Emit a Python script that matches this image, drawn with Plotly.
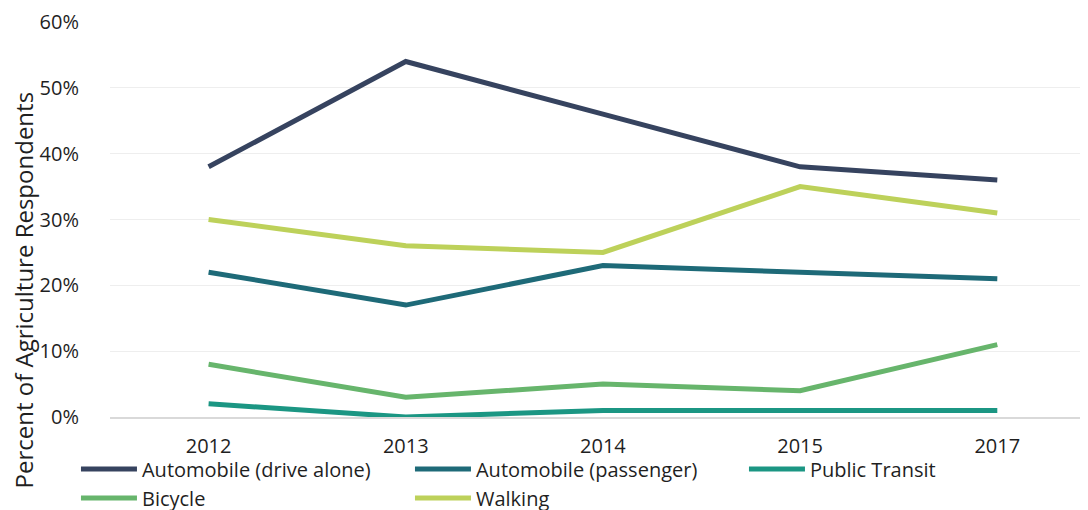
import plotly.graph_objects as go

years = ["2012", "2013", "2014", "2015", "2017"]
drive_alone = [0.38, 0.54, 0.46, 0.38, 0.36]
passenger = [0.22, 0.17, 0.23, 0.22, 0.21]
public_transit = [0.02, 0.00, 0.01, 0.01, 0.01]
bicycle = [0.08, 0.03, 0.05, 0.04, 0.11]
walking = [0.30, 0.26, 0.25, 0.35, 0.31]

series = [
    ("Automobile (drive alone)", drive_alone, "#36435F"),
    ("Automobile (passenger)", passenger, "#1E6A78"),
    ("Public Transit", public_transit, "#1B9683"),
    ("Bicycle", bicycle, "#67B56C"),
    ("Walking", walking, "#BDD15A"),
]

fig = go.Figure()
for name, vals, col in series:
    fig.add_trace(go.Scatter(x=years, y=vals, name=name, mode="lines",
                             line=dict(color=col, width=5)))

font = "Open Sans"
txt = "#1F1F1F"
fig.update_layout(
    width=1088, height=510,
    margin=dict(l=102, r=8, t=14, b=101, autoexpand=False),
    paper_bgcolor="white", plot_bgcolor="white",
    font=dict(family=font, size=20, color=txt),
    showlegend=True,
    legend=dict(orientation="h", x=-0.0348, xanchor="left", y=-0.082, yanchor="top",
                bgcolor="rgba(0,0,0,0)",
                font=dict(size=20, color=txt),
                entrywidth=263, entrywidthmode="pixels",
                tracegroupgap=0, itemwidth=56),
    xaxis=dict(type="category", range=[-0.5, 4.46], showgrid=False,
               showline=True, linecolor="#D9D9D9", linewidth=2,
               ticks="outside", ticklen=10, tickcolor="rgba(0,0,0,0)",
               tickfont=dict(size=20)),
    yaxis=dict(range=[0, 0.6], tickformat=".0%", dtick=0.1,
               showgrid=True, gridcolor="#EEEEEE", gridwidth=1,
               zeroline=False, ticks="outside", ticklen=26, tickcolor="rgba(0,0,0,0)",
               tickfont=dict(size=20)),
    annotations=[dict(text="Percent of Agriculture Respondents", textangle=-90,
                      xref="paper", yref="paper", x=-0.0885, y=0.3215,
                      xanchor="center", yanchor="middle", showarrow=False,
                      font=dict(size=24, color=txt))],
)

fig.write_html("out.html")
